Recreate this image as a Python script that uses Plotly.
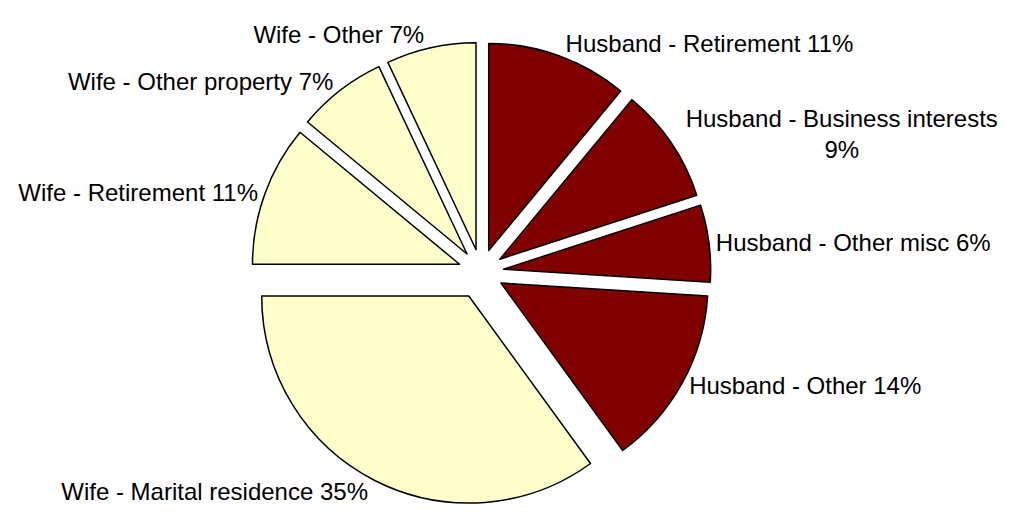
import plotly.graph_objects as go

labels = [
    "Husband - Retirement",
    "Husband - Business interests",
    "Husband - Other misc",
    "Husband - Other",
    "Wife - Marital residence",
    "Wife - Retirement",
    "Wife - Other property",
    "Wife - Other",
]
values = [11, 9, 6, 14, 35, 11, 7, 7]
colors = ["#800000"] * 4 + ["#FFFFCC"] * 4
pulls = [0.11, 0.11, 0.11, 0.11, 0.13, 0.11, 0.11, 0.11]

texts = []
for lab, v in zip(labels, values):
    sep = "<br>" if len(lab) > 25 else " "
    texts.append(f"{lab}{sep}{v}%")

W, H = 1017, 521
cx, cy, half = 481, 272, 234

fig = go.Figure(go.Pie(
    labels=labels,
    values=values,
    text=texts,
    textinfo="text",
    textposition="outside",
    sort=False,
    direction="clockwise",
    rotation=0,
    pull=pulls,
    marker=dict(colors=colors, line=dict(color="#000000", width=1.5)),
    outsidetextfont=dict(family="Liberation Sans, Arial, sans-serif", size=24, color="#000000"),
    domain=dict(x=[(cx - half) / W, (cx + half) / W],
                y=[1 - (cy + half) / H, 1 - (cy - half) / H]),
    hoverinfo="skip",
    showlegend=False,
    automargin=False,
))

fig.update_layout(
    width=W, height=H,
    margin=dict(l=0, r=0, t=0, b=0),
    paper_bgcolor="#FFFFFF",
    plot_bgcolor="#FFFFFF",
    showlegend=False,
)

fig.write_html("out.html")
